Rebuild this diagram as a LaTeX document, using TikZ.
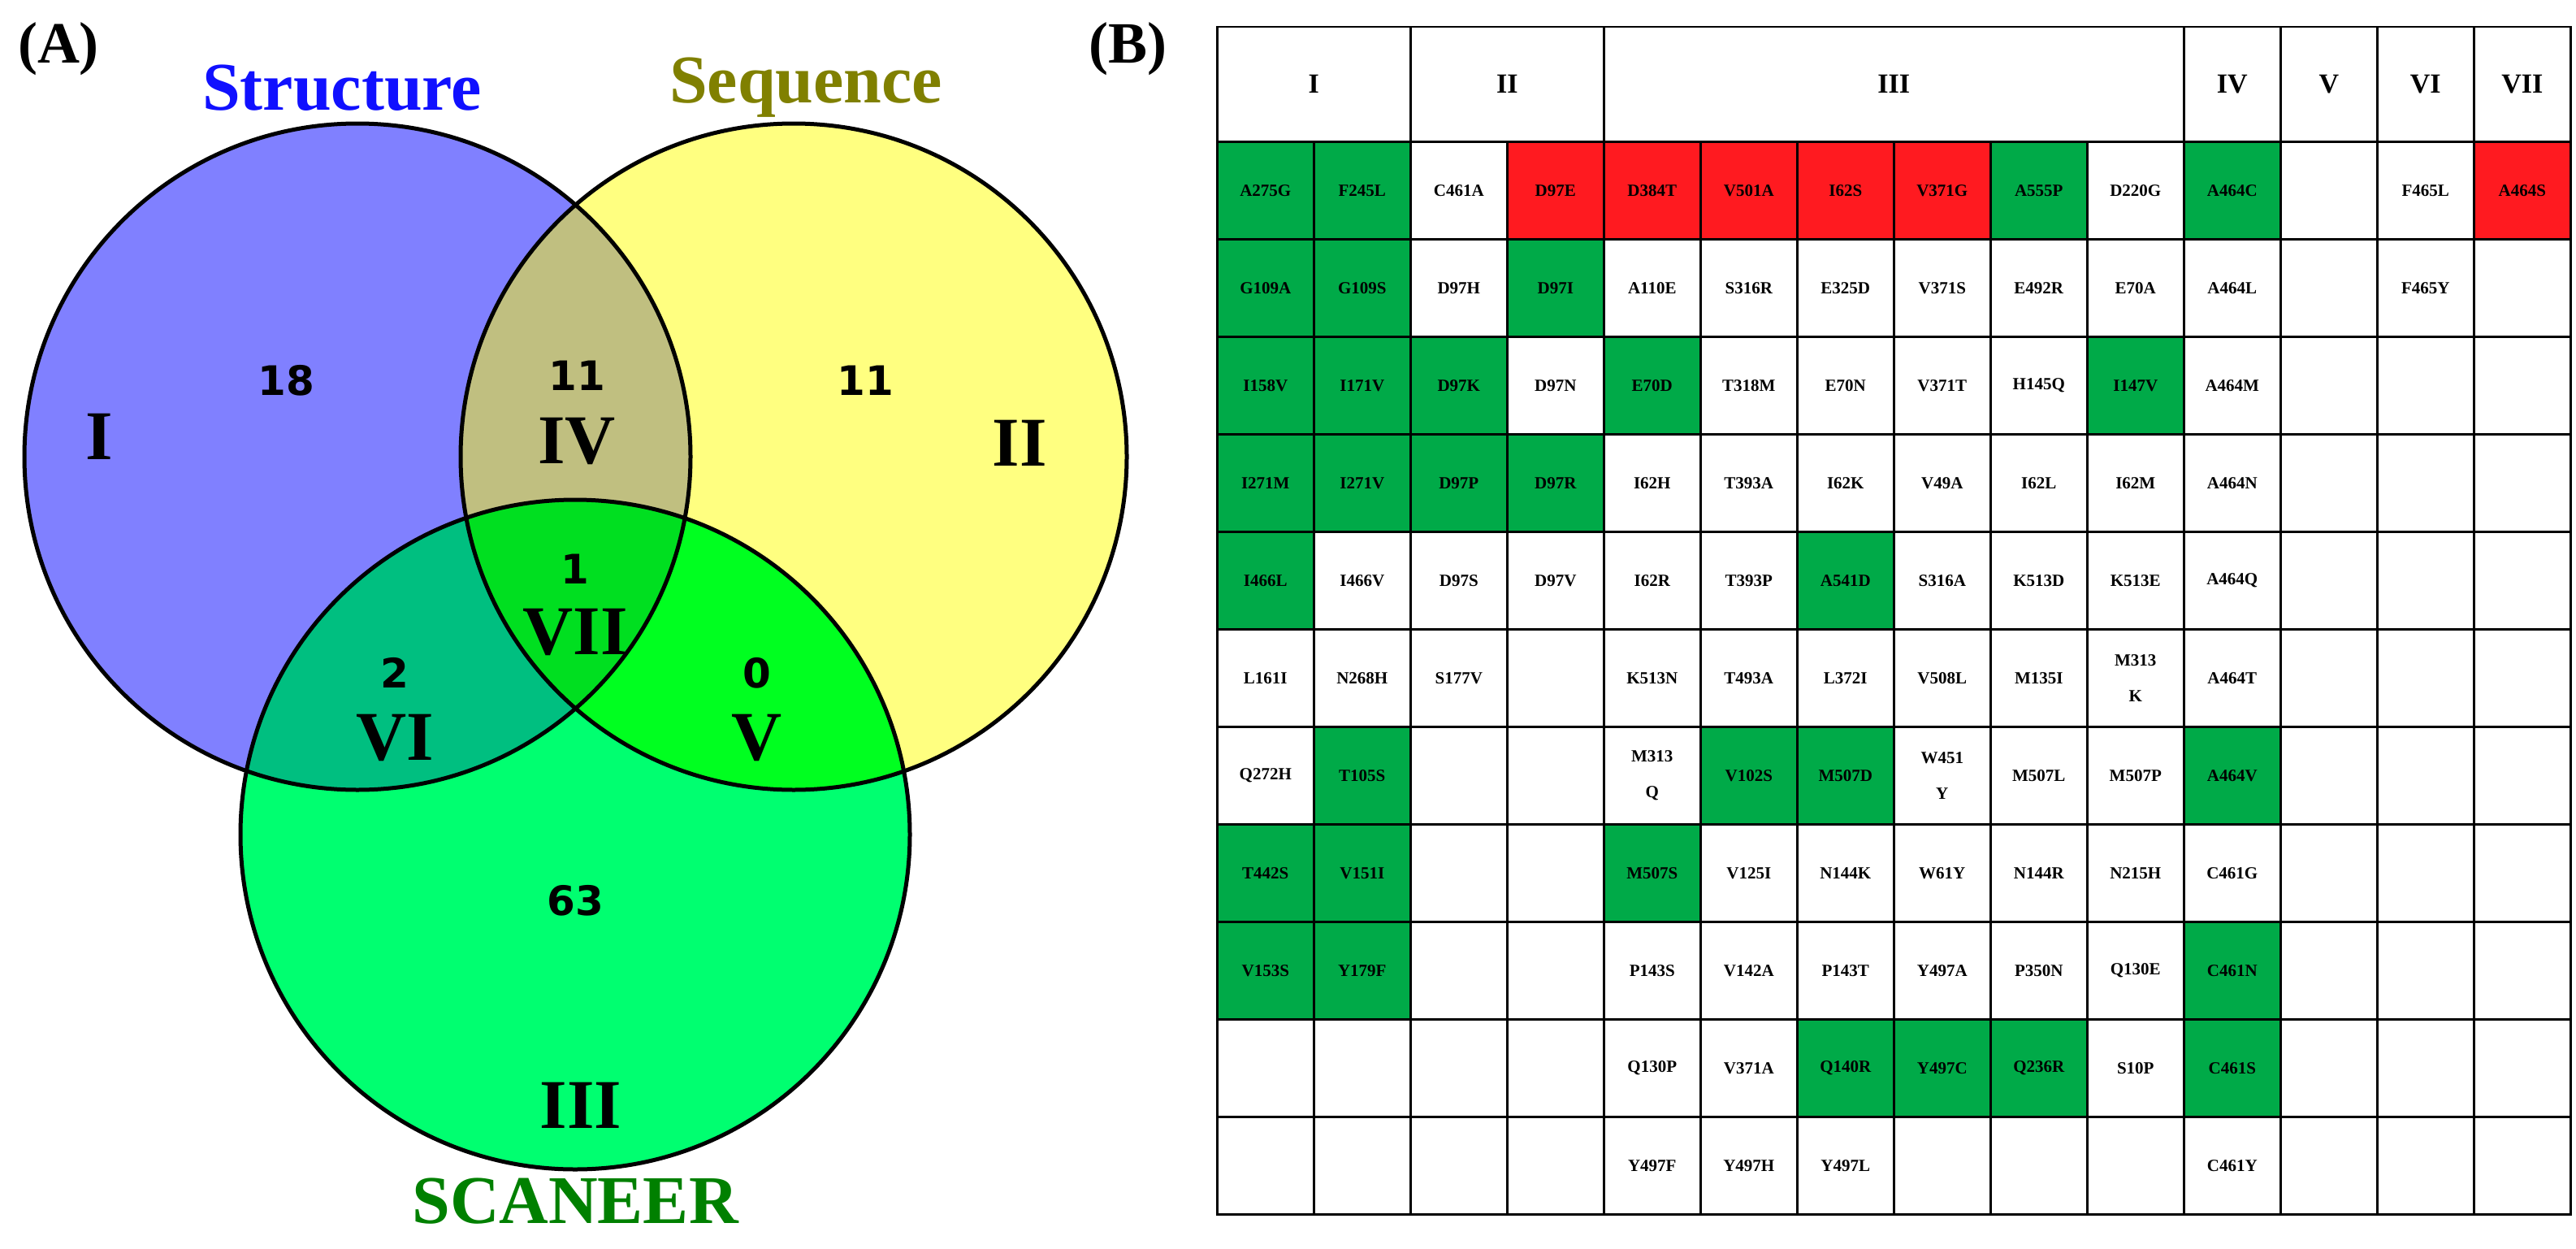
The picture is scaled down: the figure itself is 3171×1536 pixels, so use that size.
\documentclass[tikz,border=0pt]{standalone}
\usepackage{fontspec}
\setmainfont{Liberation Serif}
\newfontfamily\numfont{DejaVu Sans}
\definecolor{fcg}{RGB}{0,170,72}
\definecolor{fcr}{RGB}{255,26,32}
\definecolor{fcw}{RGB}{255,255,255}
\definecolor{cA}{RGB}{128,128,255}
\definecolor{cB}{RGB}{255,255,128}
\definecolor{cC}{RGB}{0,255,112}
\definecolor{cAB}{RGB}{192,191,128}
\definecolor{cAC}{RGB}{0,191,128}
\definecolor{cBC}{RGB}{0,255,32}
\definecolor{cABC}{RGB}{0,223,32}
\begin{document}
\begin{tikzpicture}[x=1pt,y=-1pt,
  cell/.style={rectangle,draw=black,line width=2.5pt,minimum width=119pt,minimum height=120pt,inner sep=0pt,anchor=north west,align=center,font=\bfseries\fontsize{21}{40}\selectfont},
  hcell/.style={rectangle,draw=black,line width=2.5pt,minimum height=141pt,inner sep=0pt,anchor=north west,font=\bfseries\fontsize{34}{40}\selectfont},
  num/.style={font=\numfont\bfseries\fontsize{50}{60}\selectfont,inner sep=1pt},
  rom/.style={font=\bfseries\fontsize{86}{90}\selectfont,inner sep=1pt},
  ttl/.style={font=\bfseries\fontsize{84}{90}\selectfont},
  pan/.style={font=\bfseries\fontsize{72}{80}\selectfont}]
\useasboundingbox (0,0) rectangle (3171,1536);
% Venn
\def\cAp{(440,562) circle (410)}
\def\cBp{(977,562) circle (410)}
\def\cCp{(708,1027) circle (412)}
\fill[cA] \cAp;
\fill[cB] \cBp;
\begin{scope}\clip \cAp; \fill[cAB] \cBp; \end{scope}
\fill[cC] \cCp;
\begin{scope}\clip \cCp; \fill[cAC] \cAp; \end{scope}
\begin{scope}\clip \cCp; \fill[cBC] \cBp; \end{scope}
\begin{scope}\clip \cCp; \clip \cAp; \fill[cABC] \cBp; \end{scope}
\draw[line width=5pt] \cAp;
\draw[line width=5pt] \cBp;
\draw[line width=5pt] \cCp;
\node[pan] (pA) at (72,60) {(A)};
\node[pan] (pB) at (1388,60) {(B)};
\node[ttl,text={rgb,255:red,16;green,16;blue,255}] (tS) at (421,108) {Structure};
\node[ttl,text={rgb,255:red,128;green,128;blue,0}] (tQ) at (992,108) {Sequence};
\node[ttl,text={rgb,255:red,0;green,128;blue,0}] (tC) at (708,1478) {SCANEER};
\node[num] (n1) at (352,468) {18};
\node[rom] (r1) at (122,537) {I};
\node[num] (n4) at (710,462) {11};
\node[rom] (r4) at (710,543) {IV};
\node[num] (n2) at (1065,468) {11};
\node[rom] (r2) at (1255,545) {II};
\node[num] (n7) at (708,700) {1};
\node[rom] (r7) at (708,778) {VII};
\node[num] (n6) at (486,828) {2};
\node[rom] (r6) at (486,908) {VI};
\node[num] (n5) at (932,828) {0};
\node[rom] (r5) at (932,908) {V};
\node[num] (n3) at (708,1108) {63};
\node[rom] (r3) at (715,1360) {III};
% Table header
\node[hcell,minimum width=238pt] (h1) at (1497,32) {I};
\node[hcell,minimum width=238pt] (h2) at (1735,32) {II};
\node[hcell,minimum width=714pt] (h3) at (1973,32) {III};
\node[hcell,minimum width=119pt] (h4) at (2687,32) {IV};
\node[hcell,minimum width=119pt] (h5) at (2806,32) {V};
\node[hcell,minimum width=119pt] (h6) at (2925,32) {VI};
\node[hcell,minimum width=119pt] (h7) at (3044,32) {VII};
% rows
\foreach \rowlist [count=\r] in {
 {g/A275G,g/F245L,w/C461A,r/D97E,r/D384T,r/V501A,r/I62S,r/V371G,g/A555P,w/D220G,g/A464C,w/{},w/F465L,r/A464S},
 {g/G109A,g/G109S,w/D97H,g/D97I,w/A110E,w/S316R,w/E325D,w/V371S,w/E492R,w/E70A,w/A464L,w/{},w/F465Y,w/{}},
 {g/I158V,g/I171V,g/D97K,w/D97N,g/E70D,w/T318M,w/E70N,w/V371T,w/H145Q,g/I147V,w/A464M,w/{},w/{},w/{}},
 {g/I271M,g/I271V,g/D97P,g/D97R,w/I62H,w/T393A,w/I62K,w/V49A,w/I62L,w/I62M,w/A464N,w/{},w/{},w/{}},
 {g/I466L,w/I466V,w/D97S,w/D97V,w/I62R,w/T393P,g/A541D,w/S316A,w/K513D,w/K513E,w/A464Q,w/{},w/{},w/{}},
 {w/L161I,w/N268H,w/S177V,w/{},w/K513N,w/T493A,w/L372I,w/V508L,w/M135I,w/{M313\\[4pt]K},w/A464T,w/{},w/{},w/{}},
 {w/Q272H,g/T105S,w/{},w/{},w/{M313\\[4pt]Q},g/V102S,g/M507D,w/{W451\\[4pt]Y},w/M507L,w/M507P,g/A464V,w/{},w/{},w/{}},
 {g/T442S,g/V151I,w/{},w/{},g/M507S,w/V125I,w/N144K,w/W61Y,w/N144R,w/N215H,w/C461G,w/{},w/{},w/{}},
 {g/V153S,g/Y179F,w/{},w/{},w/P143S,w/V142A,w/P143T,w/Y497A,w/P350N,w/Q130E,g/C461N,w/{},w/{},w/{}},
 {w/{},w/{},w/{},w/{},w/Q130P,w/V371A,g/Q140R,g/Y497C,g/Q236R,w/S10P,g/C461S,w/{},w/{},w/{}},
 {w/{},w/{},w/{},w/{},w/Y497F,w/Y497H,w/Y497L,w/{},w/{},w/{},w/C461Y,w/{},w/{},w/{}}} {
  \foreach \k/\t [count=\c] in \rowlist {
    \node[cell,fill=fc\k] (c-\r-\c) at ({1497+119*(\c-1)},{173+120*(\r-1)}) {\t};
  }
}
\end{tikzpicture}
\end{document}
